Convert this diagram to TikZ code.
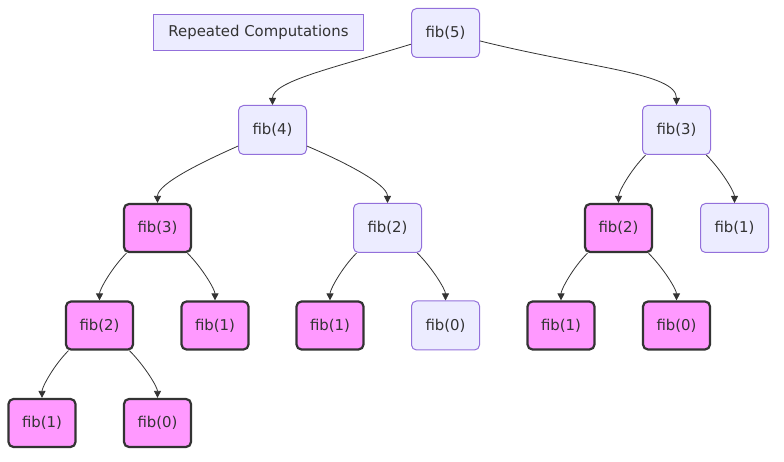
\documentclass[tikz,border=0pt]{standalone}
\usepackage{fontspec}
\setmainfont{DejaVu Sans}
\usetikzlibrary{arrows.meta}
\definecolor{nodefill}{HTML}{ECECFF}
\definecolor{nodeline}{HTML}{9370DB}
\definecolor{repfill}{HTML}{FF99FF}
\definecolor{ink}{HTML}{333333}
\begin{document}
\begin{tikzpicture}[x=1pt,y=1pt,
  label text/.style={text=ink, font=\fontsize{14.9}{18}\selectfont},
  call/.style={label text, draw=nodeline, fill=nodefill, line width=1pt,
    rounded corners=5pt, minimum width=68pt, minimum height=49pt, inner sep=0pt},
  repeated/.style={call, draw=ink, fill=repfill, line width=2.2pt,
    minimum width=67pt, minimum height=48pt},
  legendbox/.style={label text, draw=nodeline, fill=nodefill, line width=1pt,
    minimum width=210pt, minimum height=36pt, inner sep=0pt},
  edge/.style={draw=ink, line width=0.8pt, in looseness=0.5,
    -{Triangle[length=7pt,width=7pt]}},
  longedge/.style={edge, out looseness=1.4, in looseness=0.4}]
\useasboundingbox (0,0) rectangle (784,462);

% legend
\node[legendbox] (lg) at (258.5,429.5) {Repeated Computations};

% level 0 and 1
\node[call] (f5)  at (445.5,429) {fib(5)};
\node[call] (f4)  at (272.5,332) {fib(4)};
\node[call] (f3r) at (676.5,332) {fib(3)};

% level 2
\node[repeated] (f3p)  at (157.5,234) {fib(3)};
\node[call]     (f2n)  at (387.5,234) {fib(2)};
\node[repeated] (f2pr) at (618.5,234) {fib(2)};
\node[call]     (f1n)  at (734.5,234) {fib(1)};

% level 3
\node[repeated] (f2pl) at (99.5,136.5)  {fib(2)};
\node[repeated] (f1a)  at (215,136.5)   {fib(1)};
\node[repeated] (f1b)  at (330,136.5)   {fib(1)};
\node[call]     (f0n)  at (445.5,136.5) {fib(0)};
\node[repeated] (f1c)  at (561,136.5)   {fib(1)};
\node[repeated] (f0b)  at (676.5,136.5) {fib(0)};

% level 4
\node[repeated] (f1d) at (42,39)    {fib(1)};
\node[repeated] (f0c) at (157.5,39) {fib(0)};

% calls
\draw[longedge] (f5.198)  to[out=197,in=90] (f4.north);
\draw[longedge] (f5.-13)  to[out=-14,in=90] (f3r.north);
\draw[edge] (f4.205)  to[out=204,in=90] (f3p.north);
\draw[edge] (f4.-25)  to[out=-23,in=90] (f2n.north);
\draw[edge] (f3r.219) to[out=225,in=90] (f2pr.north);
\draw[edge] (f3r.-40) to[out=-45,in=90] (f1n.north);
\draw[edge] (f3p.219) to[out=225,in=90] (f2pl.north);
\draw[edge] (f3p.-40) to[out=-45,in=90] (f1a.north);
\draw[edge] (f2n.219) to[out=225,in=90] (f1b.north);
\draw[edge] (f2n.-40) to[out=-45,in=90] (f0n.north);
\draw[edge] (f2pr.219) to[out=225,in=90] (f1c.north);
\draw[edge] (f2pr.-40) to[out=-45,in=90] (f0b.north);
\draw[edge] (f2pl.219) to[out=225,in=90] (f1d.north);
\draw[edge] (f2pl.-40) to[out=-45,in=90] (f0c.north);
\end{tikzpicture}
\end{document}
